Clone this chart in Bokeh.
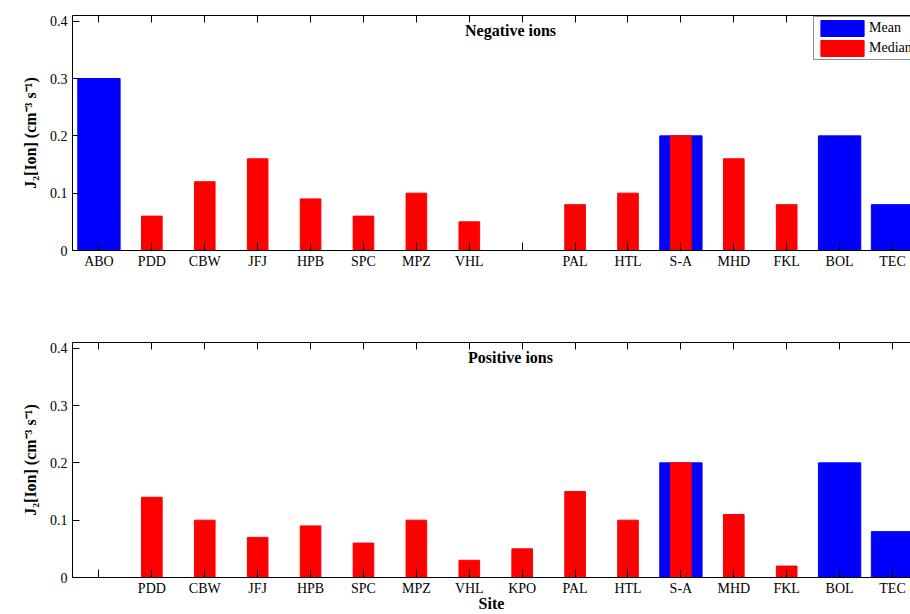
from bokeh.plotting import figure
from bokeh.models import (Range1d, FixedTicker, LinearAxis, Label, Legend, LegendItem,
                          ColumnDataSource)
from bokeh.layouts import column
from bokeh.embed import file_html
from bokeh.resources import INLINE

sites = ["ABO", "PDD", "CBW", "JFJ", "HPB", "SPC", "MPZ", "VHL",
         "KPO", "PAL", "HTL", "S-A", "MHD", "FKL", "BOL", "TEC"]
positions = list(range(1, 17))

neg_mean = [0.30, None, None, None, None, None, None, None,
            None, None, None, 0.20, None, None, 0.20, 0.08]
neg_median = [None, 0.06, 0.12, 0.16, 0.09, 0.06, 0.10, 0.05,
              None, 0.08, 0.10, 0.20, 0.16, 0.08, None, None]
pos_mean = [None, None, None, None, None, None, None, None,
            None, None, None, 0.20, None, None, 0.20, 0.08]
pos_median = [None, 0.14, 0.10, 0.07, 0.09, 0.06, 0.10, 0.03,
              0.05, 0.15, 0.10, 0.20, 0.11, 0.02, None, None]

y_ticks = [0, 0.1, 0.2, 0.3, 0.4]
y_tick_labels = ["0", "0.1", "0.2", "0.3", "0.4"]

SERIF = "Liberation Serif"
BLUE = "#0000ff"
RED = "#ff0000"


def src(vals):
    xs = [p for p, v in zip(positions, vals) if v is not None]
    ys = [v for v in vals if v is not None]
    return ColumnDataSource(dict(x=xs, top=ys))


def make_fig(mean, median, title, height, border_top, border_bottom, with_legend, xlabel):
    p = figure(width=910, height=height, output_backend="svg", toolbar_location=None,
               x_range=Range1d(0.5, 16.34), y_range=Range1d(0, 0.41),
               min_border_left=72, min_border_right=0,
               min_border_top=border_top, min_border_bottom=border_bottom,
               x_axis_location=None, y_axis_location=None)
    p.outline_line_color = None
    p.xgrid.visible = False
    p.ygrid.visible = False
    p.background_fill_color = "white"
    p.border_fill_color = "white"

    shown = [i for i, (a, b) in enumerate(zip(mean, median)) if a is not None or b is not None]
    overrides = {pos: (sites[i] if i in shown else "") for i, pos in enumerate(positions)}

    xb = LinearAxis(ticker=FixedTicker(ticks=positions), major_label_overrides=overrides)
    xb.major_tick_in = 8
    xb.major_tick_out = 0
    xb.minor_tick_line_color = None
    xb.major_label_standoff = 3
    xb.major_label_text_font = SERIF
    xb.major_label_text_font_size = "14px"
    xb.major_label_text_color = "black"
    xb.axis_line_color = "black"
    xb.major_tick_line_color = "black"
    if xlabel:
        xb.axis_label = xlabel
        xb.axis_label_text_font = SERIF
        xb.axis_label_text_font_style = "bold"
        xb.axis_label_text_font_size = "16px"
        xb.axis_label_text_color = "black"
        xb.axis_label_standoff = -4
    p.add_layout(xb, "below")

    xt = LinearAxis(ticker=FixedTicker(ticks=positions),
                    major_label_overrides={pos: "" for pos in positions})
    xt.major_tick_in = 7
    xt.major_tick_out = 0
    xt.minor_tick_line_color = None
    xt.major_label_standoff = 0
    xt.major_label_text_font_size = "0px"
    xt.axis_line_color = "black"
    p.add_layout(xt, "above")

    yl = LinearAxis(ticker=FixedTicker(ticks=y_ticks),
                    major_label_overrides=dict(zip(y_ticks, y_tick_labels)))
    yl.major_tick_in = 7
    yl.major_tick_out = 0
    yl.minor_tick_line_color = None
    yl.major_label_standoff = 5
    yl.major_label_text_font = SERIF
    yl.major_label_text_font_size = "14px"
    yl.major_label_text_color = "black"
    yl.axis_line_color = "black"
    yl.axis_label = "J\u2082[Ion] (cm\u207b\u00b3 s\u207b\u00b9)"
    yl.axis_label_text_font = SERIF
    yl.axis_label_text_font_style = "bold"
    yl.axis_label_text_font_size = "16px"
    yl.axis_label_text_color = "black"
    yl.axis_label_standoff = 8
    p.add_layout(yl, "left")

    r_mean = p.vbar(x="x", top="top", width=0.8, bottom=0, source=src(mean),
                    fill_color=BLUE, line_color=BLUE)
    r_med = p.vbar(x="x", top="top", width=0.39, bottom=0, source=src(median),
                   fill_color=RED, line_color=RED)

    p.add_layout(Label(x=8.78, y=0.384, text=title, text_align="center",
                       text_baseline="middle", text_font=SERIF, text_font_style="bold",
                       text_font_size="16px", text_color="black"))

    if with_legend:
        leg = Legend(items=[LegendItem(label="Mean", renderers=[r_mean]),
                            LegendItem(label="Median", renderers=[r_med])],
                     location=(741, 190))
        leg.border_line_color = "#222222"
        leg.border_line_width = 1
        leg.padding = 1
        leg.margin = 0
        leg.spacing = 0
        leg.glyph_width = 54
        leg.glyph_height = 20
        leg.label_height = 20
        leg.label_standoff = 0
        leg.label_text_font = SERIF
        leg.label_text_font_size = "14px"
        leg.label_text_color = "black"
        leg.background_fill_alpha = 1
        p.add_layout(leg)
    return p


p1 = make_fig(neg_mean, neg_median, "Negative ions", 300, 15, 50, True, None)
p2 = make_fig(pos_mean, pos_median, "Positive ions", 314, 42, 37, False, "Site")

p = column(p1, p2, spacing=0)
open("out.html", "w").write(file_html(p, INLINE))
